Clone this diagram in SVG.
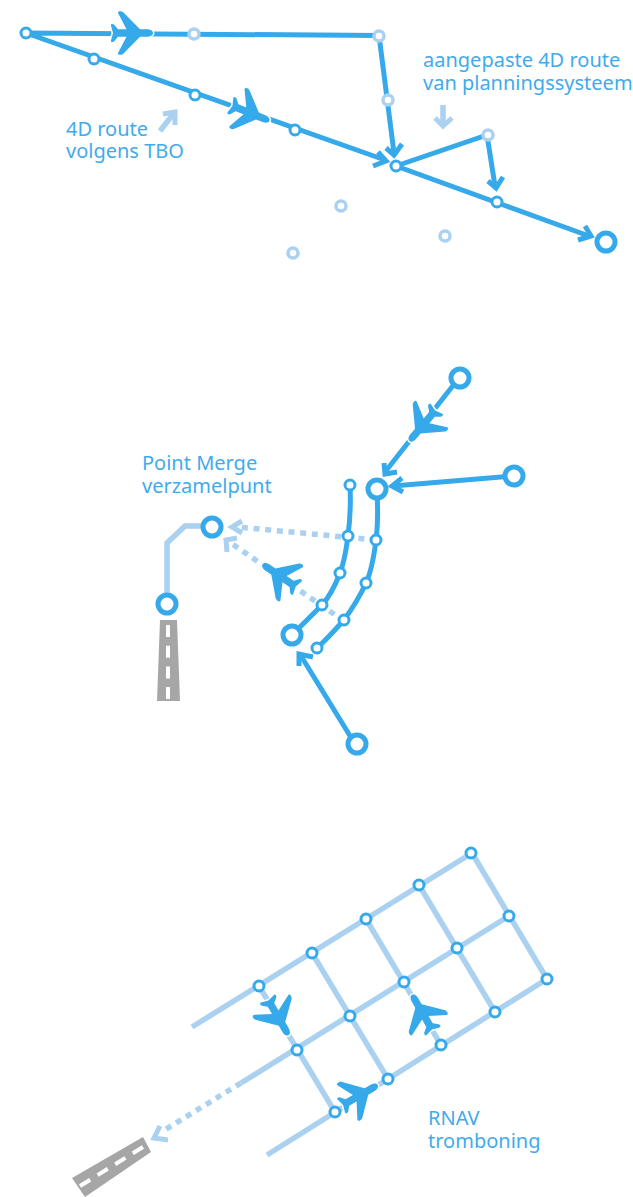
<svg xmlns="http://www.w3.org/2000/svg" width="633" height="1197" viewBox="0 0 633 1197">
<style>
.r{fill:none;stroke:#36a9ea;stroke-width:5}
.ah{fill:none;stroke:#36a9ea;stroke-width:5}
.l{fill:none;stroke:#abd1f1;stroke-width:5.5}
.d{fill:none;stroke:#abd1f1;stroke-width:5.5;stroke-dasharray:6 5.7}
.lh{fill:none;stroke:#abd1f1;stroke-width:5}
.n{fill:#fff;stroke:#36a9ea;stroke-width:3}
.g{fill:#fff;stroke:#abd1f1;stroke-width:3.5}
.b{fill:#fff;stroke:#36a9ea;stroke-width:5}
.p{fill:#36a9ea;stroke:#fff;stroke-width:3;paint-order:stroke}
.t{font-family:"Noto Sans",sans-serif;font-size:20px;fill:#3fabeb}
.rw{fill:#a6a6a6}
.rd{stroke:#fff;stroke-width:4;fill:none;stroke-dasharray:12 8.7}
</style>
<defs>
<path id="plane" d="M21,0C21,-2.5 18,-3.7 15,-3.7L8,-3.7L-9,-21C-11,-22.5 -14.5,-22 -14,-20L-5.5,-3.7L-14,-3.7L-18,-8.5C-20,-9.5 -21.5,-9 -21,-7.5L-19,0L-21,7.5C-21.5,9 -20,9.5 -18,8.5L-14,3.7L-5.5,3.7L-14,20C-14.5,22 -11,22.5 -9,21L8,3.7L15,3.7C18,3.7 21,2.500 21,0Z"/>
</defs>
<g id="connectors">
<path class="r" d="M26,33L379,35.500L394,153M26,33L385,160M396,166L487,135L495,186M396,166L589,236"/>
<path class="ah" d="M386,148L394,155L402,144M378,152L386,161L373,166M488,181L496,188L503,177M585,226L591,236L578,240"/>
<path class="r" d="M459,378L385,472M514,476L393,486"/>
<path class="ah" d="M384,463L385,474L397,472M402,478L392,486L403,492"/>
<path class="r" d="M350,485C351,505 350,520 348,536C346,550 345,560 340,573C335,586 330,596 322,605L292,635M377,489C378,510 378,525 376,540C374,556 372,570 366,583C360,596 352,609 344,620C335,630 325,641 317,648"/>
<path class="r" d="M355,744L301,656"/>
<path class="ah" d="M299,666L299,654L313,657"/>
<path class="l" d="M167,604L167,543L185,526L212,526"/>
<path class="d" d="M376,540L238,527M344,621L228,541"/>
<path class="lh" d="M242,521L232,527L242,533M237,538L226,540L227,552"/>
<path class="l" d="M160,131L174,113M443,105L443,126M192,1027L472,853M241,1083L509,916M267,1155L547,979M259,986L335,1112M312,953L388,1079M366,919L441,1045M419,885L495,1012M472,853L547,979"/>
<path class="lh" d="M163,114L175,112L175,125M435,118L443,126L452,118"/>
<path class="d" d="M241,1083L163,1131"/>
<path class="lh" d="M160,1126L154,1138L168,1140"/>
</g>
<g id="plane1"><use href="#plane" class="p" transform="translate(132,33)"/></g>
<g id="plane2"><use href="#plane" class="p" transform="translate(250,113) rotate(22)"/></g>
<g id="plane3"><use href="#plane" class="p" transform="translate(423,425) rotate(130)"/></g>
<g id="plane4"><use href="#plane" class="p" transform="translate(280,576) rotate(214)"/></g>
<g id="plane5"><use href="#plane" class="p" transform="translate(278,1017) rotate(60)"/></g>
<g id="plane6"><use href="#plane" class="p" transform="translate(422.500,1013) rotate(240)"/></g>
<g id="plane7"><use href="#plane" class="p" transform="translate(359.500,1095.500) rotate(-30)"/></g>
<g id="n-top">
<circle class="n" cx="26" cy="33" r="5"/><circle class="n" cx="94" cy="59" r="5"/><circle class="n" cx="195" cy="95" r="5"/><circle class="n" cx="295" cy="130" r="5"/>
<circle class="g" cx="194" cy="34" r="5"/><circle class="g" cx="379" cy="36" r="5"/><circle class="g" cx="388" cy="100" r="5"/><circle class="g" cx="488" cy="135" r="5"/>
<circle class="n" cx="396" cy="166" r="5"/><circle class="n" cx="497" cy="202" r="5"/><circle class="b" cx="606" cy="242" r="9"/>
<circle class="g" cx="341" cy="206" r="5"/><circle class="g" cx="445" cy="236" r="5"/><circle class="g" cx="293" cy="253" r="5"/>
</g>
<g id="n-merge">
<circle class="b" cx="460" cy="378" r="9"/><circle class="b" cx="514" cy="476" r="9"/><circle class="b" cx="377" cy="489" r="9"/><circle class="n" cx="350" cy="485" r="5"/>
<circle class="n" cx="348" cy="536" r="5"/><circle class="n" cx="376" cy="540" r="5"/><circle class="n" cx="340" cy="573" r="5"/><circle class="n" cx="366" cy="583" r="5"/><circle class="n" cx="322" cy="605" r="5"/><circle class="n" cx="344" cy="620" r="5"/><circle class="n" cx="317" cy="648" r="5"/>
<circle class="b" cx="292" cy="635" r="9"/><circle class="b" cx="357" cy="744" r="9"/><circle class="b" cx="212" cy="527" r="9"/><circle class="b" cx="167" cy="604" r="9"/>
</g>
<g id="runway1"><path class="rw" d="M160,620H177L180,701H157Z"/><path class="rd" d="M168,625V700"/></g>
<g id="runway2"><path class="rw" d="M143,1137L151,1152L85,1197L72,1178Z"/><path class="rd" d="M143,1147L80,1186"/></g>
<g id="n-grid">
<circle class="n" cx="471" cy="853" r="5"/><circle class="n" cx="419" cy="885" r="5"/><circle class="n" cx="366" cy="919" r="5"/><circle class="n" cx="312" cy="953" r="5"/><circle class="n" cx="259" cy="986" r="5"/>
<circle class="n" cx="509" cy="916" r="5"/><circle class="n" cx="457" cy="948" r="5"/><circle class="n" cx="404" cy="982" r="5"/><circle class="n" cx="350" cy="1016" r="5"/><circle class="n" cx="297" cy="1050" r="5"/>
<circle class="n" cx="547" cy="979" r="5"/><circle class="n" cx="495" cy="1012" r="5"/><circle class="n" cx="441" cy="1045" r="5"/><circle class="n" cx="388" cy="1079" r="5"/><circle class="n" cx="335" cy="1112" r="5"/>
</g>
<g id="labels">
<text class="t" x="66" y="136">4D route<tspan x="66" y="158">volgens TBO</tspan></text>
<text class="t" x="423" y="67">aangepaste 4D route<tspan x="423" y="90">van planningssysteem</tspan></text>
<text class="t" x="142" y="470">Point Merge<tspan x="142" y="493">verzamelpunt</tspan></text>
<text class="t" x="428" y="1125">RNAV<tspan x="428" y="1148">tromboning</tspan></text>
</g>
</svg>
